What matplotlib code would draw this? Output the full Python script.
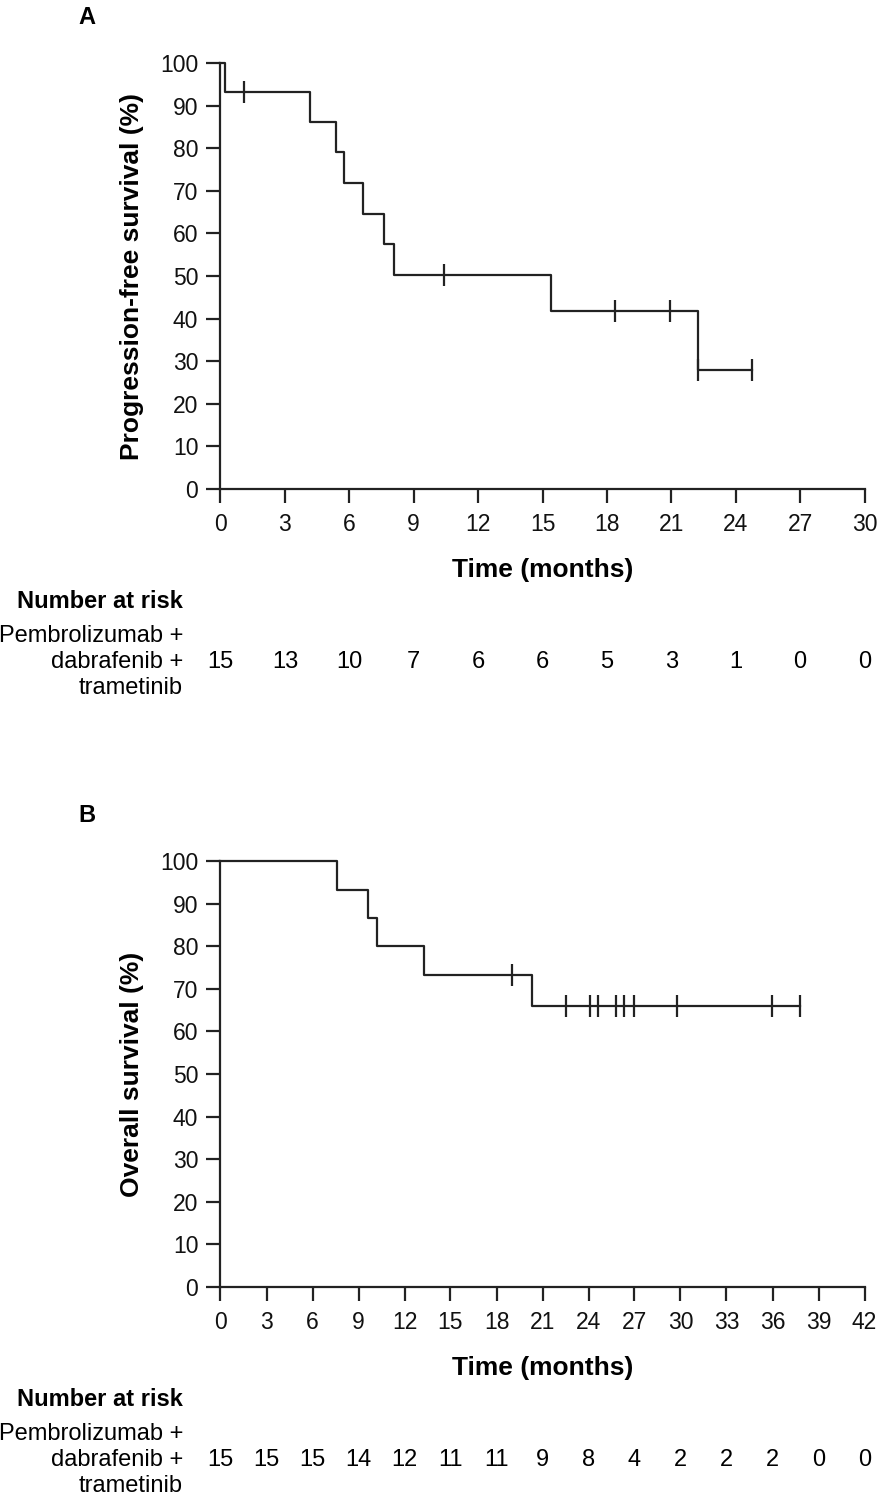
import matplotlib
matplotlib.use("Agg")
import matplotlib.pyplot as plt
import matplotlib.transforms as mtransforms

plt.rcParams["font.family"] = ["Liberation Sans", "DejaVu Sans"]

W, H = 878, 1500
INK = "#222222"

# Panel A: progression-free survival
pfs_times = [0, 0.19, 4.19, 5.4, 5.77, 6.62, 7.6, 8.1, 15.4, 22.25]
pfs_surv = [100, 93.3, 86.2, 79.0, 71.8, 64.6, 57.4, 50.3, 41.9, 27.9]
pfs_end = 24.76
pfs_cens_t = [1.1, 10.39, 18.4, 20.95, 22.25, 24.76]
pfs_cens_s = [93.3, 50.3, 41.9, 41.9, 27.9, 27.9]
pfs_ticks = list(range(0, 31, 3))
pfs_risk = [15, 13, 10, 7, 6, 6, 5, 3, 1, 0, 0]

# Panel B: overall survival
os_times = [0, 7.57, 9.63, 10.22, 13.3, 20.3]
os_surv = [100, 93.3, 86.7, 80.0, 73.3, 66.0]
os_end = 37.78
os_cens_t = [19.03, 22.53, 24.1, 24.63, 25.8, 26.34, 26.99, 29.8, 35.98, 37.78]
os_cens_s = [73.3, 66.0, 66.0, 66.0, 66.0, 66.0, 66.0, 66.0, 66.0, 66.0]
os_ticks = list(range(0, 43, 3))
os_risk = [15, 15, 15, 14, 12, 11, 11, 9, 8, 4, 2, 2, 2, 0, 0]

arm_label = ["Pembrolizumab +", "dabrafenib +", "trametinib"]


def fx(x):
    return x / W


def fy(y):
    return 1 - y / H


fig = plt.figure(figsize=(W / 100, H / 100), dpi=100)


def km_panel(top_px, letter, ylabel, times, surv, end_t, cens_t, cens_s, ticks, risk):
    bottom_px = top_px + 426
    left_px, right_px = 220.5, 864.5
    ax = fig.add_axes([fx(left_px), fy(bottom_px),
                       (right_px - left_px) / W, (bottom_px - top_px) / H])

    ax.step(times + [end_t], surv + [surv[-1]], where="post",
            color=INK, lw=1.6, clip_on=False, zorder=3)
    ax.plot(cens_t, cens_s, ls="none", marker="|", ms=16.5, mew=1.6,
            color=INK, clip_on=False, zorder=3)

    ax.set_xlim(ticks[0], ticks[-1])
    ax.set_ylim(0, 100)
    ax.set_xticks(ticks)
    ax.set_yticks(range(0, 101, 10))
    for s in ["top", "right"]:
        ax.spines[s].set_visible(False)
    for s in ["left", "bottom"]:
        ax.spines[s].set_linewidth(1.6)
        ax.spines[s].set_color(INK)
    ax.tick_params(direction="out", length=10, width=1.6, color=INK,
                   labelsize=16.5, labelcolor="#111111")
    ax.tick_params(axis="x", pad=7)
    ax.tick_params(axis="y", pad=6)

    fig.text(fx(87), fy(top_px - 46), letter, fontsize=17, fontweight="bold",
             ha="center", va="center")
    fig.text(fx(132), fy((top_px + bottom_px) / 2), ylabel, rotation=90,
             fontsize=19, fontweight="bold", ha="center", va="center")
    fig.text(fx((left_px + right_px) / 2), fy(top_px + 507), "Time (months)",
             fontsize=19, fontweight="bold", ha="center", va="center")

    fig.text(fx(183), fy(top_px + 538), "Number at risk", fontsize=17,
             fontweight="bold", ha="right", va="center")
    for i, line in enumerate(arm_label):
        fig.text(fx(183), fy(top_px + 573 + 26 * i), line, fontsize=17,
                 ha="right", va="center")

    trans = mtransforms.blended_transform_factory(ax.transData, fig.transFigure)
    for t, n in zip(ticks, risk):
        ax.text(t, fy(top_px + 599), str(n), transform=trans, fontsize=17,
                ha="center", va="center", clip_on=False)
    return ax


km_panel(63, "A", "Progression-free survival (%)", pfs_times, pfs_surv, pfs_end,
         pfs_cens_t, pfs_cens_s, pfs_ticks, pfs_risk)
km_panel(861, "B", "Overall survival (%)", os_times, os_surv, os_end,
         os_cens_t, os_cens_s, os_ticks, os_risk)

fig.savefig("out.png", dpi=100)
